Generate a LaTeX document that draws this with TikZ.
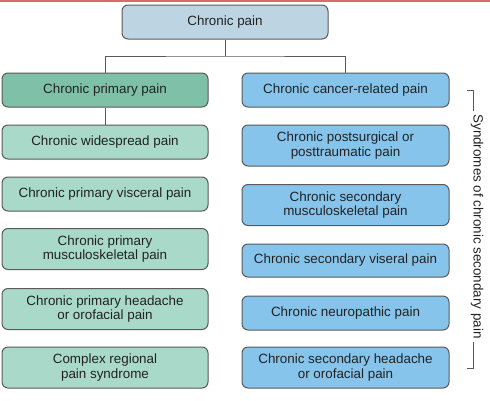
\documentclass[tikz,border=0pt]{standalone}
\usepackage{fontspec}
\setmainfont{Liberation Sans}
\definecolor{topfill}{HTML}{BDD5E3}
\definecolor{primfill}{HTML}{7EC0A8}
\definecolor{leftfill}{HTML}{A9D9C9}
\definecolor{rightfill}{HTML}{86C4EC}
\definecolor{edge}{HTML}{5A5A5A}
\definecolor{txt}{HTML}{222222}
\definecolor{redline}{HTML}{D66A6C}
\begin{document}
\begin{tikzpicture}[x=1pt,y=-1pt,
  box/.style={draw=edge, line width=1pt, rounded corners=6pt, text=txt,
    align=center, inner sep=0pt, font=\fontsize{13.4}{14.5}\selectfont},
  single/.style={box, minimum height=34pt},
  double/.style={box, minimum height=41pt},
  lbox/.style={minimum width=206pt, fill=leftfill},
  rbox/.style={minimum width=207pt, fill=rightfill},
  conn/.style={draw=edge, line width=1pt},
]
\useasboundingbox (0,0) rectangle (490,400);
\fill[white] (0,0) rectangle (490,400);
\draw[redline, line width=1.5pt] (0,0.75) -- (490,0.75);

\node[single, minimum width=206pt, fill=topfill] (top) at (225,22) {Chronic pain};

\node[single, lbox, fill=primfill] (prim) at (105,90) {Chronic primary pain};
\node[single, rbox] (canc) at (345.5,90) {Chronic cancer-related pain};

\node[single, lbox] (l1) at (105,142) {Chronic widespread pain};
\node[single, lbox] (l2) at (105,194) {Chronic primary visceral pain};
\node[double, lbox] (l3) at (105,249) {Chronic primary\\musculoskeletal pain};
\node[double, lbox] (l4) at (105,309) {Chronic primary headache\\or orofacial pain};
\node[double, lbox] (l5) at (105,367.5) {Complex regional\\pain syndrome};

\node[double, rbox] (r1) at (345.5,145.5) {Chronic postsurgical or\\posttraumatic pain};
\node[double, rbox] (r2) at (345.5,205) {Chronic secondary\\musculoskeletal pain};
\node[single, rbox, minimum height=33pt] (r3) at (345.5,260.5) {Chronic secondary viseral pain};
\node[single, rbox] (r4) at (345.5,313) {Chronic neuropathic pain};
\node[double, rbox] (r5) at (345.5,367.5) {Chronic secondary headache\\or orofacial pain};

\coordinate (j) at (225,56);
\draw[conn] (top.south) -- (j);
\draw[conn] (prim.north) |- (j) -| (canc.north);
\draw[conn] (prim.south) -- (l1.north);

\node[rotate=-90, text=txt, font=\fontsize{13.4}{15}\selectfont, inner sep=3pt] (lbl) at (477,226.5) {Syndromes of chronic secondary pain};
\coordinate (bt1) at (467,90);
\coordinate (bt2) at (473.5,90);
\coordinate (bb1) at (467,368);
\coordinate (bb2) at (473.5,368);
\draw[conn] (bt1) -- (bt2) -- (bt2 |- lbl.west);
\draw[conn] (bb1) -- (bb2) -- (bb2 |- lbl.east);
\end{tikzpicture}
\end{document}
